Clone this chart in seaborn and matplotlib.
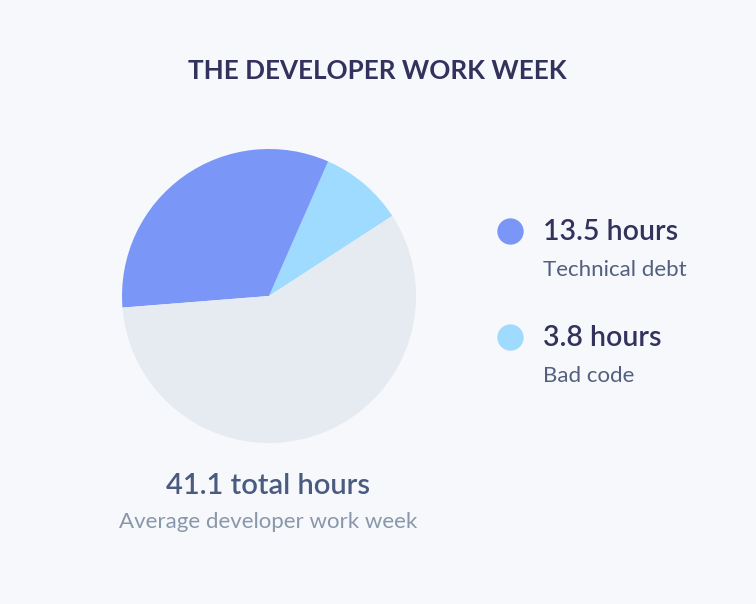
import matplotlib.pyplot as plt
import seaborn as sns

# dados da semana de trabalho
categorias = ['Bad code', 'Technical debt', 'Other']
horas = [3.8, 13.5, 23.8]
cores = ['#9FDBFF', '#7A97F8', '#E6EBF1']
total = 41.1

legenda_valores = ['13.5 hours', '3.8 hours']
legenda_nomes = ['Technical debt', 'Bad code']
legenda_cores = ['#7A97F8', '#9FDBFF']

sns.set_theme(style='white')
plt.rcParams['font.family'] = ['Lato', 'DejaVu Sans']

W, H = 756, 604
fig = plt.figure(figsize=(W / 100, H / 100), dpi=100)
fig.patch.set_facecolor('#F6F8FB')

# eixo de sobreposição em pixels para textos e bolinhas
over = fig.add_axes([0, 0, 1, 1])
over.set_xlim(0, W)
over.set_ylim(H, 0)
over.axis('off')

# pizza
cx, cy, r = 269, 296, 147
ax = fig.add_axes([(cx - r) / W, (H - cy - r) / H, 2 * r / W, 2 * r / H])
ax.pie(horas, colors=cores, startangle=33, counterclock=True,
       wedgeprops=dict(linewidth=0))
ax.set_xlim(-1, 1)
ax.set_ylim(-1, 1)
ax.set_aspect('auto')
ax.axis('off')

over.text(377, 71, 'THE DEVELOPER WORK WEEK', ha='center', va='center',
          fontsize=18.7, fontweight='bold', color='#32325D')

ys = [231, 337]
for y, val, nome, cor in zip(ys, legenda_valores, legenda_nomes, legenda_cores):
    over.scatter([510], [y], s=360, color=cor, linewidths=0)
    over.text(543, y + 1, val, ha='left', va='center', fontsize=20.5,
              fontweight='semibold', color='#32325D')
    over.text(543, y + 39, nome, ha='left', va='center', fontsize=16,
              color='#525F7F')

over.text(268, 486, f'{total} total hours', ha='center', va='center',
          fontsize=21, fontweight='semibold', color='#4A5A80')
over.text(268, 522, 'Average developer work week', ha='center', va='center',
          fontsize=16, color='#8898AA')

plt.savefig('out.png', dpi=100, facecolor=fig.get_facecolor())
